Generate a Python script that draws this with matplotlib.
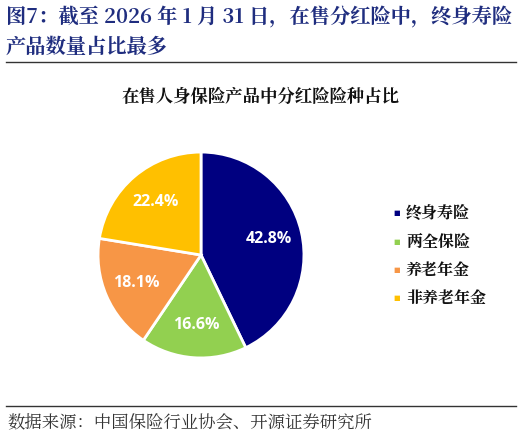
import matplotlib
matplotlib.use("Agg")
import matplotlib.pyplot as plt
from matplotlib.lines import Line2D

categories = ["终身寿险", "两全保险", "养老年金", "非养老年金"]
values = [42.8, 16.6, 18.1, 22.4]
colors = ["#000080", "#92D050", "#F79646", "#FFC000"]

fig_title_1 = "图7：截至 2026 年 1 月 31 日，在售分红险中，终身寿险"
fig_title_2 = "产品数量占比最多"
chart_title = "在售人身保险产品中分红险险种占比"
source = "数据来源：中国保险行业协会、开源证券研究所"

SERIF = ['Noto Serif CJK SC', 'Noto Sans CJK SC', 'DejaVu Serif']
plt.rcParams['font.family'] = ['Noto Sans CJK SC', 'DejaVu Sans']

W, H = 522, 438
fig = plt.figure(figsize=(W/100, H/100), dpi=100)

def fx(x): return x / W
def fy(y): return 1 - y / H

# headline
fig.text(fx(6), fy(17), fig_title_1, fontsize=14.6, fontweight='bold', color='#1F2D7F',
         va='center', ha='left', family=SERIF)
fig.text(fx(6), fy(47), fig_title_2, fontsize=14.6, fontweight='bold', color='#1F2D7F',
         va='center', ha='left', family=SERIF)
fig.add_artist(Line2D([fx(6), fx(516)], [fy(62), fy(62)], color='#333333', lw=1.0))

fig.text(fx(261), fy(97), chart_title, fontsize=12.5, fontweight='bold', color='#111111',
         va='center', ha='center', family=SERIF)

# pie
cx, cy, r = 201, 255, 105
ax = fig.add_axes([fx(cx - r), fy(cy + r), 2*r/W, 2*r/H])
wedges, texts, autotexts = ax.pie(values, colors=colors, startangle=90, counterclock=False,
                                  autopct='%1.1f%%', pctdistance=0.68,
                                  wedgeprops=dict(edgecolor='white', linewidth=2),
                                  textprops=dict(color='white', fontsize=11.5, fontweight='bold',
                                                 family=['Open Sans', 'DejaVu Sans']))
ax.set_aspect('equal')
ax.set_xlim(-1.02, 1.02)
ax.set_ylim(-1.02, 1.02)
ax.axis('off')

# legend
ys = [213, 242, 270, 298]
for cat, col, y in zip(categories, colors, ys):
    fig.text(fx(397), fy(y), "■", fontsize=5, color=col, va='center', ha='center',
             family=['DejaVu Sans'])
    fig.text(fx(406), fy(y), cat, fontsize=11.5, fontweight='bold', color='#111111',
             va='center', ha='left', family=SERIF)

# source
fig.add_artist(Line2D([fx(6), fx(516)], [fy(406), fy(406)], color='#333333', lw=1.0))
fig.text(fx(7), fy(423), source, fontsize=12.5, color='#333333', va='center', ha='left',
         family=SERIF)

fig.savefig("out.png", dpi=100)
